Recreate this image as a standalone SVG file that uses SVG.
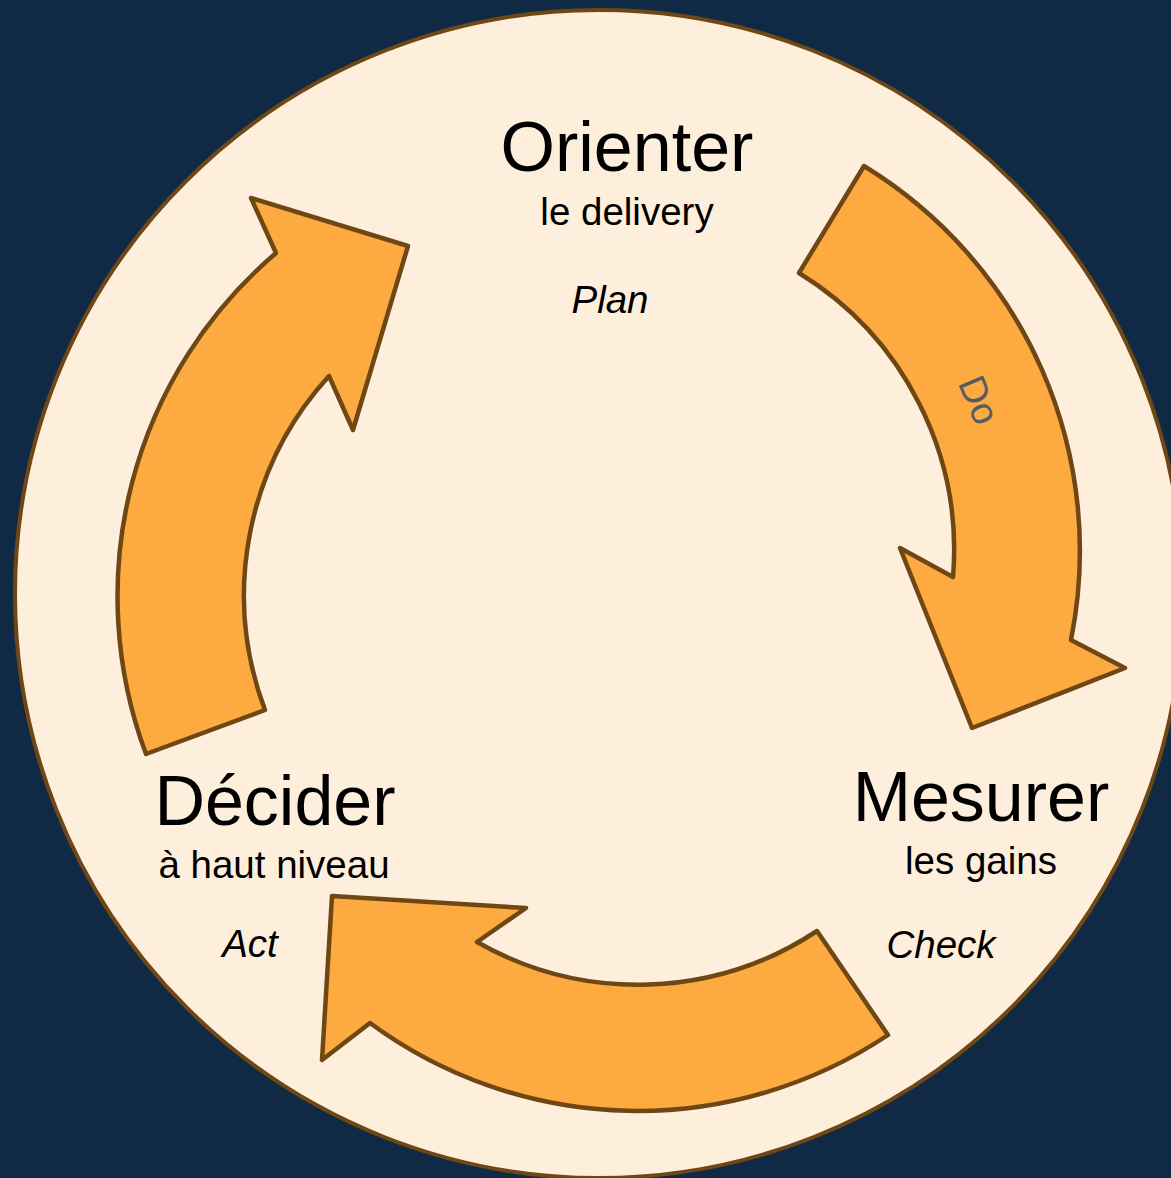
<svg xmlns="http://www.w3.org/2000/svg" width="1171" height="1178" viewBox="0 0 1171 1178">
<style>
.title{font-family:"Liberation Sans",Arial,sans-serif;font-size:70px;fill:#000;text-anchor:middle}
.sub{font-family:"Liberation Sans",Arial,sans-serif;font-size:38.5px;fill:#000;text-anchor:middle}
.pdca{font-family:"Liberation Sans",Arial,sans-serif;font-size:38.5px;font-style:italic;fill:#000;text-anchor:middle}
.arrow{fill:#fdaa40;stroke:#6e4715;stroke-width:4.5;stroke-linejoin:round}
.lbl{font-family:"Liberation Sans",Arial,sans-serif;font-size:38px;fill:#565c63;text-anchor:middle}
</style>
<rect x="0" y="0" width="1171" height="1178" fill="#102a46"/>
<circle id="cycle" cx="599" cy="594" r="584" fill="#feeedc" stroke="#6e4715" stroke-width="4"/>
<g id="connectors">
  <path id="arrow-do" class="arrow" d="M864,166 A451,451 0 0 1 1071,640 L1125,668 L972,728 L900,548 L953,577 A325,325 0 0 0 799,273 Z"/>
  <text class="lbl" transform="translate(967,405) rotate(67)" x="0" y="0">Do</text>
  <path id="arrow-check" class="arrow" d="M888,1035 A451,451 0 0 1 370,1023 L322,1060 L332,896 L526,908 L477,942 A325,325 0 0 0 817,931 Z"/>
  <path id="arrow-act" class="arrow" d="M146,754 A451,451 0 0 1 276,253 L251,198 L408,246 L353,430 L329,376 A325,325 0 0 0 265,710 Z"/>
</g>
<g id="node-orienter">
  <text class="title" x="627" y="171">Orienter</text>
  <text class="sub" x="627" y="225">le delivery</text>
  <text class="pdca" x="610" y="313">Plan</text>
</g>
<g id="node-mesurer">
  <text class="title" x="981" y="821">Mesurer</text>
  <text class="sub" x="981" y="874">les gains</text>
  <text class="pdca" x="941" y="958">Check</text>
</g>
<g id="node-decider">
  <text class="title" x="275" y="825">Décider</text>
  <text class="sub" x="274" y="878">à haut niveau</text>
  <text class="pdca" x="250" y="957">Act</text>
</g>
</svg>
